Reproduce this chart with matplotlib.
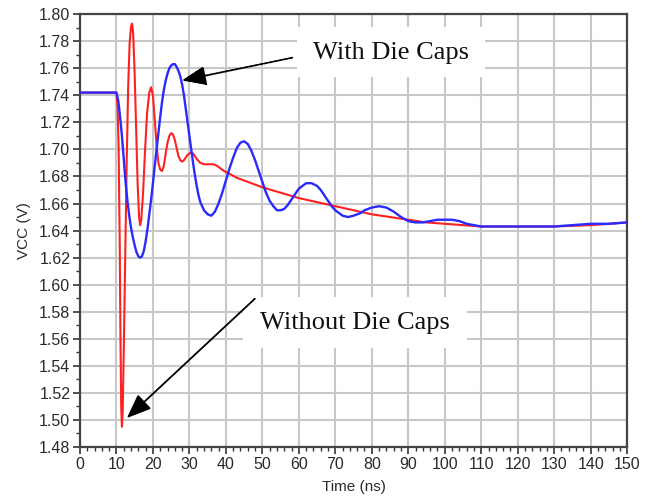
import matplotlib
matplotlib.use('Agg')
import matplotlib.pyplot as plt
from matplotlib.patches import Rectangle
from matplotlib.ticker import MultipleLocator

plt.rcParams['font.family'] = ['Liberation Sans', 'DejaVu Sans']

# VCC with die caps (blue)
t_with = [0.0, 10.0, 10.5, 11.0, 11.5, 12.0, 12.5, 13.0, 13.5, 14.0, 14.5, 15.0, 15.5, 16.0,
          16.5, 17.0, 17.5, 18.0, 18.5, 19.0, 19.5, 20.0, 20.5, 21.0, 21.5, 22.0, 22.5, 23.0,
          23.5, 24.0, 24.5, 25.0, 25.5, 26.0, 26.5, 27.0, 27.5, 28.0, 28.5, 29.0, 29.5, 30.0,
          30.5, 31.0, 31.5, 32.0, 32.5, 33.0, 34.0, 35.0, 36.0, 37.0, 38.0, 39.0, 40.0, 41.0,
          42.0, 43.0, 44.0, 45.0, 46.0, 47.0, 48.0, 49.0, 50.0, 51.0, 52.0, 53.0, 54.0, 55.0,
          56.0, 57.0, 58.0, 59.0, 60.0, 61.0, 62.0, 63.5, 65.0, 66.0, 67.0, 68.0, 69.0, 70.0,
          71.0, 72.0, 73.5, 75.0, 76.0, 77.0, 78.0, 79.0, 80.0, 82.0, 84.0, 86.0, 88.0, 90.0,
          92.0, 94.0, 96.0, 98.0, 100.0, 102.0, 104.0, 106.0, 108.0, 110.0, 115.0, 120.0,
          125.0, 130.0, 135.0, 140.0, 145.0, 150.0]
v_with = [1.742, 1.742, 1.736, 1.724, 1.710, 1.693, 1.676, 1.662, 1.651, 1.642, 1.635, 1.629, 1.624, 1.621,
          1.620, 1.621, 1.625, 1.632, 1.641, 1.652, 1.663, 1.675, 1.688, 1.700, 1.712, 1.724, 1.735, 1.744,
          1.751, 1.756, 1.760, 1.762, 1.763, 1.763, 1.761, 1.758, 1.754, 1.748, 1.740, 1.730, 1.720, 1.710,
          1.700, 1.690, 1.681, 1.673, 1.666, 1.661, 1.655, 1.652, 1.651, 1.654, 1.660, 1.668, 1.677, 1.686,
          1.694, 1.701, 1.705, 1.706, 1.704, 1.699, 1.692, 1.684, 1.676, 1.668, 1.662, 1.658, 1.655, 1.655,
          1.656, 1.659, 1.663, 1.667, 1.671, 1.673, 1.675, 1.675, 1.673, 1.670, 1.666, 1.662, 1.658, 1.655,
          1.653, 1.651, 1.650, 1.651, 1.652, 1.653, 1.655, 1.656, 1.657, 1.658, 1.657, 1.654, 1.650, 1.647,
          1.646, 1.646, 1.647, 1.648, 1.648, 1.648, 1.647, 1.645, 1.644, 1.643, 1.643, 1.643,
          1.643, 1.643, 1.644, 1.645, 1.645, 1.646]

# VCC without die caps (red)
t_without = [0.0, 10.0, 10.3, 10.6, 10.9, 11.1, 11.3, 11.5, 11.7, 12.0, 12.4, 12.8, 13.2, 13.6,
             14.0, 14.3, 14.6, 15.0, 15.4, 15.8, 16.2, 16.5, 16.8, 17.3, 17.8, 18.4, 19.0, 19.5,
             20.0, 20.5, 21.0, 21.5, 22.0, 22.5, 23.0, 23.5, 24.0, 24.5, 25.0, 25.5, 26.0, 26.5,
             27.0, 27.5, 28.0, 28.5, 29.0, 29.5, 30.0, 30.5, 31.0, 32.0, 33.0, 34.0, 35.0, 36.5,
             37.5, 38.5, 39.5, 41.0, 43.0, 45.0, 50.0, 55.0, 60.0, 65.0, 70.0, 75.0, 80.0, 85.0,
             90.0, 95.0, 100.0, 105.0, 110.0, 120.0, 130.0, 140.0, 150.0]
v_without = [1.742, 1.742, 1.732, 1.700, 1.630, 1.560, 1.510, 1.495, 1.505, 1.550, 1.620, 1.690, 1.745, 1.778,
             1.791, 1.793, 1.785, 1.755, 1.715, 1.675, 1.650, 1.644, 1.648, 1.668, 1.697, 1.727, 1.742, 1.746,
             1.740, 1.722, 1.703, 1.690, 1.685, 1.684, 1.688, 1.697, 1.705, 1.710, 1.712, 1.711, 1.707, 1.701,
             1.695, 1.692, 1.691, 1.692, 1.694, 1.696, 1.697, 1.6975, 1.697, 1.693, 1.690, 1.689, 1.689, 1.689,
             1.688, 1.686, 1.684, 1.682, 1.679, 1.677, 1.672, 1.668, 1.664, 1.661, 1.658, 1.655, 1.652, 1.650,
             1.648, 1.646, 1.645, 1.644, 1.643, 1.643, 1.643, 1.644, 1.646]

fig = plt.figure(figsize=(6.46, 4.97), dpi=100)
ax = fig.add_axes([0.1238, 0.1006, 0.847, 0.871])

ax.plot(t_without, v_without, color='#ff2020', lw=1.5, zorder=3)
ax.plot(t_with, v_with, color='#2a2aff', lw=1.7, zorder=4)

ax.set_xlim(0, 150)
ax.set_ylim(1.48, 1.80)
ax.xaxis.set_major_locator(MultipleLocator(10))
ax.xaxis.set_minor_locator(MultipleLocator(2))
ax.yaxis.set_major_locator(MultipleLocator(0.02))
ax.yaxis.set_minor_locator(MultipleLocator(0.01))
ax.yaxis.set_major_formatter(matplotlib.ticker.FormatStrFormatter('%.2f'))
ax.grid(True, which='major', color='#c8c8c8', lw=1.5)
ax.set_axisbelow(True)
ax.tick_params(which='major', direction='out', length=5, width=1.2, color='#333333',
               labelsize=11.5, labelcolor='#2a2a2a', pad=2)
ax.tick_params(which='minor', direction='out', length=3, width=1.0, color='#333333')
for s in ax.spines.values():
    s.set_color('#444444')
    s.set_linewidth(1.6)

ax.set_xlabel('Time (ns)', fontsize=11, color='#2a2a2a', labelpad=6)
ax.set_ylabel('VCC (V)', fontsize=11, color='#2a2a2a', labelpad=6)

# label boxes hide the grid behind the text
ax.add_patch(Rectangle((59.5, 1.7534), 51.5, 0.037, facecolor='white', edgecolor='none', zorder=2))
ax.add_patch(Rectangle((44.7, 1.5532), 61.4, 0.0377, facecolor='white', edgecolor='none', zorder=2))
ax.text(85.3, 1.7712, 'With Die Caps', family='Liberation Serif', fontsize=19,
        ha='center', va='center', color='#111111', zorder=5)
ax.text(75.4, 1.5717, 'Without Die Caps', family='Liberation Serif', fontsize=19,
        ha='center', va='center', color='#111111', zorder=5)

ax.annotate('', xy=(27.15, 1.7505), xytext=(58.95, 1.7682),
            arrowprops=dict(arrowstyle='-|>,head_length=1.5,head_width=0.6', color='black',
                            lw=1.3, linestyle=(0, (2, 0.8))), zorder=6)
ax.annotate('', xy=(12.3, 1.500), xytext=(48.5, 1.591),
            arrowprops=dict(arrowstyle='-|>,head_length=1.5,head_width=0.6', color='black',
                            lw=1.3), zorder=6)

fig.savefig('out.png', dpi=100)
